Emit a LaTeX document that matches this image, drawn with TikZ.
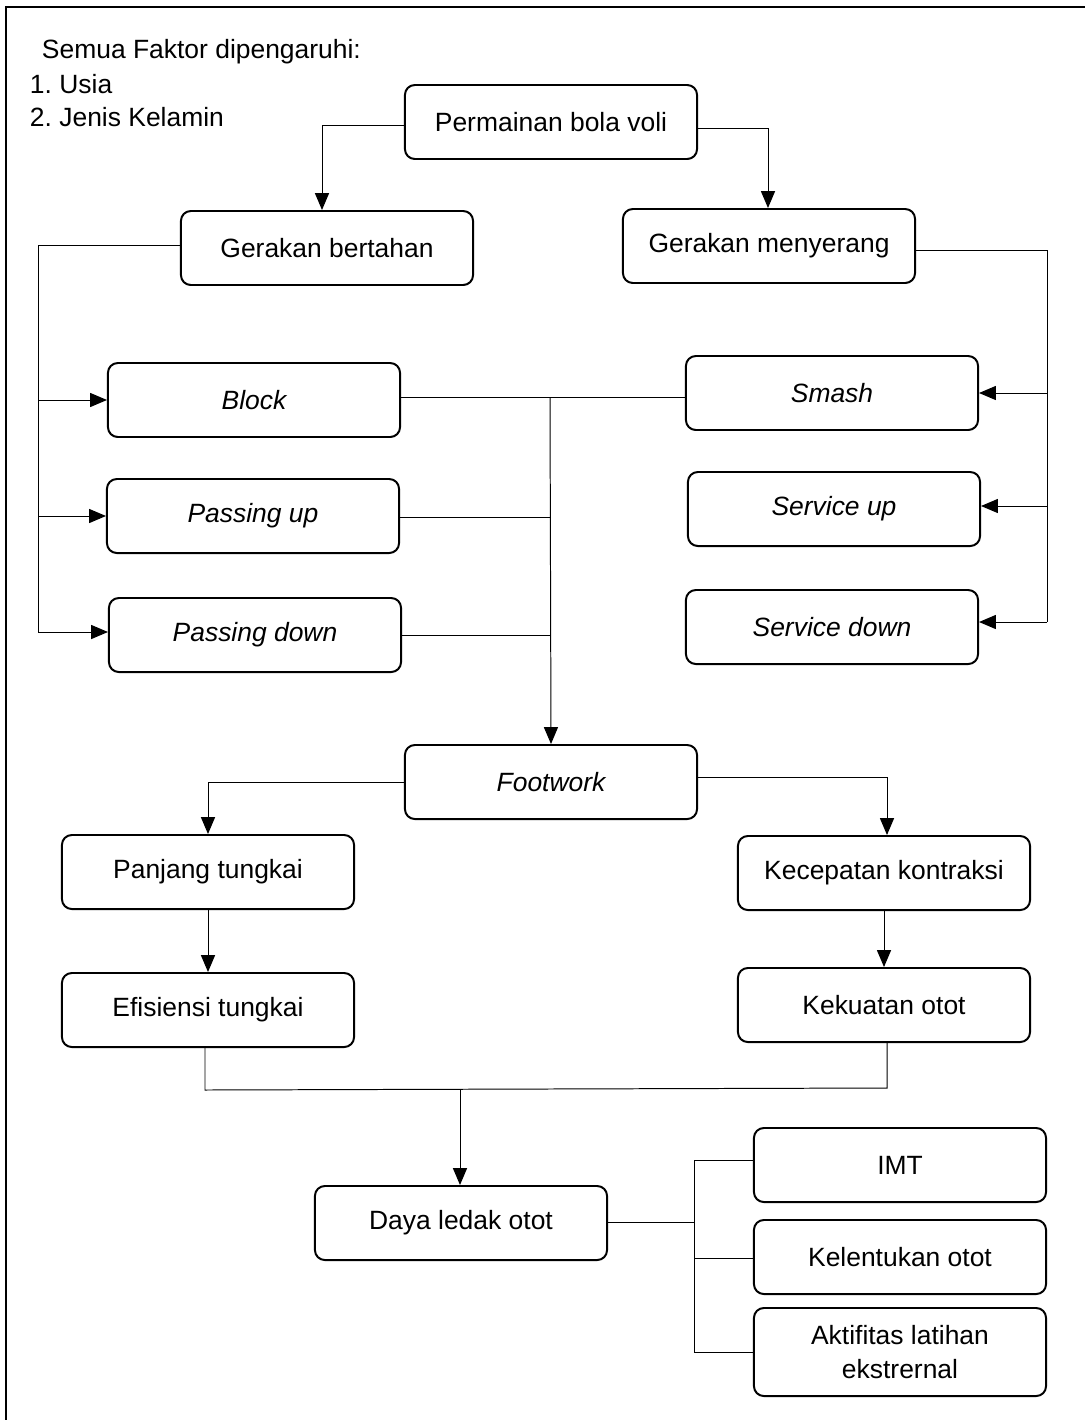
\documentclass[tikz,border=0pt]{standalone}
\usepackage{fontspec}
\setmainfont{Liberation Sans}
\usepackage{tikz}
\usetikzlibrary{arrows.meta,shapes}

\begin{document}
\begin{tikzpicture}[x=0.025cm,y=-0.025cm]
\tikzstyle{every node} = [font=\fontsize{18.8}{24}\selectfont]
\tikzstyle{kotak} = [draw,rectangle,rounded corners=7pt,line width=1.4pt,minimum width=7.3cm,minimum height=1.85cm,align=center]
\tikzstyle{garis} = [line width=0.7pt]
\tikzstyle{panah} = [line width=0.7pt,-{Triangle[length=12pt,width=10pt]}]

\useasboundingbox (0,0) rectangle (1085,1420);
\draw[line width=1.5pt] (6,1420) -- (6,7) -- (1085,7);

\node[anchor=west] (semua) at (37,52) {Semua Faktor dipengaruhi:};
\node[anchor=west] (usia) at (25,84) {1.\ Usia};
\node[anchor=west] (jenis) at (25,117) {2.\ Jenis Kelamin};

\node[kotak] (bola) at (551,122) {Permainan bola voli};
\node[kotak] (bertahan) at (327,248) {Gerakan bertahan};
\node[kotak] (menyerang) at (769,246) {Gerakan menyerang};

\node[kotak] (block) at (254,400) {\itshape Block};
\node[kotak] (passup) at (253,516) {\itshape Passing up};
\node[kotak] (passdown) at (255,635) {\itshape Passing down};
\node[kotak] (smash) at (832,393) {\itshape Smash};
\node[kotak] (servup) at (834,509) {\itshape Service up};
\node[kotak] (servdown) at (832,627) {\itshape Service down};

\node[kotak] (footwork) at (551,782) {\itshape Footwork};
\node[kotak] (panjang) at (208,872) {Panjang tungkai};
\node[kotak] (efisiensi) at (208,1010) {Efisiensi tungkai};
\node[kotak] (kecepatan) at (884,873) {Kecepatan kontraksi};
\node[kotak] (kekuatan) at (884,1005) {Kekuatan otot};

\node[kotak] (daya) at (461,1223) {Daya ledak otot};
\node[kotak] (imt) at (900,1165) {IMT};
\node[kotak] (kelentukan) at (900,1257) {Kelentukan otot};
\node[kotak,minimum height=2.2cm] (aktifitas) at (900,1352) {Aktifitas latihan\\ekstrernal};

% cabang atas
\coordinate (kiri1) at (322,125);
\coordinate (kanan1) at (768,128);
\draw[panah] (bola.west |- kiri1) -- (kiri1) -- (kiri1 |- bertahan.north);
\draw[panah] (bola.east |- kanan1) -- (kanan1) -- (kanan1 |- menyerang.north);

% gerakan bertahan
\coordinate (bt) at (38,245);
\draw[garis] (bertahan.west |- bt) -- (bt) -- (38,632);
\draw[panah] (38,400) -- (block.west);
\draw[panah] (38,516) -- (passup.west);
\draw[panah] (38,632) -- (passdown.west |- 0,632);

% gerakan menyerang
\coordinate (my) at (1047,250);
\draw[garis] (menyerang.east |- my) -- (my) -- (1047,622);
\draw[panah] (1047,393) -- (smash.east);
\draw[panah] (1047,506) -- (servup.east |- 0,506);
\draw[panah] (1047,622) -- (servdown.east |- 0,622);

% ke footwork
\coordinate (tengah) at (550,397);
\draw[garis] (block.east |- tengah) -- (smash.west |- tengah);
\draw[garis] (passup.east |- 0,517) -- (550,517);
\draw[garis] (passdown.east) -- (550,635);
\draw[panah] (tengah) -- (footwork.north);

% footwork
\coordinate (fk) at (208,782);
\coordinate (fn) at (887,777);
\draw[panah] (footwork.west) -- (fk) -- (panjang.north);
\draw[panah] (footwork.east |- fn) -- (fn) -- (fn |- kecepatan.north);
\draw[panah] (panjang) -- (efisiensi);
\draw[panah] (kecepatan) -- (kekuatan);

% ke daya ledak
\coordinate (gab) at (460,1090);
\draw[garis] (efisiensi.south -| 205,0) -- (205,1090) -- (887,1088) -- (kekuatan.south -| 887,0);
\draw[panah] (gab) -- (gab |- daya.north);

% faktor daya ledak
\coordinate (cb) at (694,1222);
\draw[garis] (daya.east |- cb) -- (cb);
\draw[garis] (694,1160) -- (694,1352);
\draw[garis] (694,1160) -- (imt.west |- 0,1160);
\draw[garis] (694,1258) -- (kelentukan.west |- 0,1258);
\draw[garis] (694,1352) -- (aktifitas.west);

\end{tikzpicture}
\end{document}
